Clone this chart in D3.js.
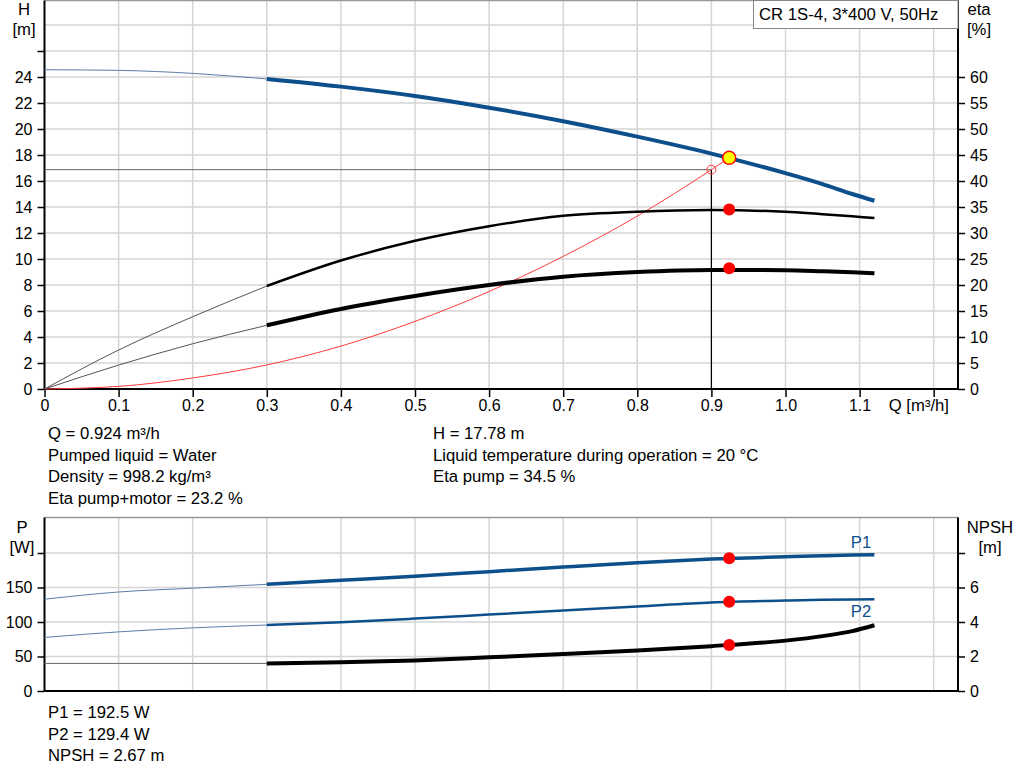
<!DOCTYPE html>
<html>
<meta charset="utf-8">
<title>CR 1S-4 pump curves</title>
<style>
body { margin: 0; background: #fff; }
svg { display: block; font-family: "Liberation Sans", Arial, sans-serif; font-size: 16.7px; }
.grid line { stroke: #d5d5d5; stroke-width: 1.5px; }
.axis path { display: none; }
.axis line { stroke: #000; stroke-width: 1.5px; }
.axis text { fill: #000; font-size: 16px; font-family: "Liberation Sans", Arial, sans-serif; }
.frame { stroke: #000; stroke-width: 2px; }
.curve { fill: none; }
</style>
<script src="https://d3js.org/d3.v7.min.js"></script>
<body>
<script>
// flow points: thin (extrapolated) part and the operating range
const qStart = [0, 0.1, 0.2, 0.3];
const qRun = [0.3, 0.4, 0.5, 0.6, 0.7, 0.8, 0.9, 1.0, 1.05, 1.09, 1.12];

// head [m]
const headStart = [24.56, 24.51, 24.28, 23.85];
const headRun = [23.85, 23.26, 22.54, 21.64, 20.6, 19.41, 18.11, 16.6, 15.76, 15.0, 14.48];

// efficiencies [%]
const etaPumpStart = [0, 7.5, 13.9, 19.8];
const etaPumpRun = [19.8, 24.7, 28.5, 31.3, 33.3, 34.1, 34.4, 34.1, 33.6, 33.2, 32.9];
const etaTotalStart = [0, 4.6, 8.7, 12.25];
const etaTotalRun = [12.25, 15.4, 17.9, 20.0, 21.6, 22.5, 22.9, 22.85, 22.65, 22.45, 22.25];

// system curve [m]
const qSystem = [0, 0.1, 0.2, 0.3, 0.4, 0.5, 0.6, 0.7, 0.8, 0.9, 0.924];
const headSystem = [0, 0.2, 0.85, 1.85, 3.3, 5.2, 7.5, 10.2, 13.3, 16.87, 17.78];

// power [W] and NPSH [m]
const p1Start = [133, 143.5, 149, 154.6];
const p1Run = [154.6, 160.4, 166.2, 173, 179.7, 186, 191.2, 194.5, 196, 197, 197.5];
const p2Start = [77.6, 85.7, 91.5, 95.6];
const p2Run = [95.6, 99.7, 105, 110.8, 116.6, 122.4, 128.3, 131.0, 132.1, 132.7, 133];
const npshStart = [1.6, 1.6, 1.6, 1.6];
const npshRun = [1.6, 1.66, 1.77, 1.95, 2.14, 2.35, 2.6, 2.92, 3.18, 3.47, 3.81];

// duty point
const duty = { q: 0.924, h: 17.78, etaPump: 34.5, etaTotal: 23.2, p1: 192.5, p2: 129.4, npsh: 2.67 };
const refPoint = { q: 0.9, h: 16.87 };

const qTicks = [0, 0.1, 0.2, 0.3, 0.4, 0.5, 0.6, 0.7, 0.8, 0.9, 1.0, 1.1, 1.2];
const hTicks = [0, 2, 4, 6, 8, 10, 12, 14, 16, 18, 20, 22, 24, 26];
const hGrid = [2, 4, 6, 8, 10, 12, 14, 16, 18, 20, 22, 24, 26, 28];
const etaTicks = [0, 5, 10, 15, 20, 25, 30, 35, 40, 45, 50, 55, 60];
const pTicks = [0, 50, 100, 150, 200];
const npshTicks = [0, 2, 4, 6, 8];

const infoTop = ["Q = 0.924 m³/h", "Pumped liquid = Water", "Density = 998.2 kg/m³", "Eta pump+motor = 23.2 %"];
const infoTopRight = ["H = 17.78 m", "Liquid temperature during operation = 20 °C", "Eta pump = 34.5 %"];
const infoBottom = ["P1 = 192.5 W", "P2 = 129.4 W", "NPSH = 2.67 m"];
const title = "CR 1S-4, 3*400 V, 50Hz";

const blue = "#0d4f8b";
const left = 44.5, right = 958;

const svg = d3.select("body").append("svg")
    .attr("width", 1024)
    .attr("height", 781);

const x = d3.scaleLinear().domain([0, 1.2]).range([left, 933.7]);

function zip(qs, vs) { return qs.map((q, i) => [q, vs[i]]); }

function drawPanel(y0, y1, yL, yR, opts) {
  const g = svg.append("g");
  const grid = g.append("g").attr("class", "grid");
  grid.selectAll("line.v").data(qTicks.slice(1)).join("line")
      .attr("x1", d => x(d)).attr("x2", d => x(d))
      .attr("y1", y0).attr("y2", y1);
  grid.selectAll("line.h").data(opts.grid).join("line")
      .attr("x1", left).attr("x2", right)
      .attr("y1", d => yL(d)).attr("y2", d => yL(d));

  // top border
  g.append("line").attr("x1", left).attr("x2", right).attr("y1", y0).attr("y2", y0)
      .attr("stroke", "#999").attr("stroke-width", 1.5);

  g.append("g").attr("class", "axis")
      .attr("transform", `translate(${left},0)`)
      .call(d3.axisLeft(yL).tickValues(opts.leftTicks).tickSize(7).tickPadding(5)
        .tickFormat(d => d <= opts.leftMax ? d : ""));
  g.append("g").attr("class", "axis")
      .attr("transform", `translate(${right},0)`)
      .call(d3.axisRight(yR).tickValues(opts.rightTicks).tickSize(7).tickPadding(5)
        .tickFormat(d => d <= opts.rightMax ? d : ""));
  if (opts.xAxis) {
    g.append("g").attr("class", "axis")
        .attr("transform", `translate(0,${y1})`)
        .call(d3.axisBottom(x).tickValues(qTicks).tickSize(8).tickPadding(3)
          .tickFormat(d => d === 0 ? "0" : (d > 1.15 ? "" : d3.format(".1f")(d))));
  }
  g.append("line").attr("class", "frame").attr("x1", left).attr("x2", left).attr("y1", y0).attr("y2", y1);
  g.append("line").attr("class", "frame").attr("x1", right).attr("x2", right).attr("y1", y0).attr("y2", y1);
  g.append("line").attr("class", "frame").attr("x1", left).attr("x2", right).attr("y1", y1).attr("y2", y1);
  return g;
}

function curve(g, pts, y, color, width) {
  const line = d3.line().x(d => x(d[0])).y(d => y(d[1])).curve(d3.curveMonotoneX);
  g.append("path").attr("class", "curve").datum(pts)
      .attr("d", line).attr("stroke", color).attr("stroke-width", width);
}

function label(text, px, py, anchor, color) {
  svg.append("text").attr("x", px).attr("y", py)
      .attr("text-anchor", anchor || "start")
      .attr("fill", color || "#000").text(text);
}

// ---------- upper panel: H and eta ----------
const yH = d3.scaleLinear().domain([0, 24]).range([389, 77]);
const yEta = d3.scaleLinear().domain([0, 60]).range([389, 77]);
const upper = drawPanel(0.5, 389, yH, yEta,
  { grid: hGrid, leftTicks: hTicks, leftMax: 24, rightTicks: etaTicks, rightMax: 60, xAxis: true });

// reference lines to the read-off point
upper.append("line").attr("x1", left).attr("x2", x(refPoint.q))
    .attr("y1", yH(refPoint.h)).attr("y2", yH(refPoint.h))
    .attr("stroke", "#666").attr("stroke-width", 1);
upper.append("line").attr("x1", x(refPoint.q)).attr("x2", x(refPoint.q))
    .attr("y1", yH(refPoint.h)).attr("y2", 389)
    .attr("stroke", "#000").attr("stroke-width", 1.2);

curve(upper, zip(qSystem, headSystem), yH, "#ff3b3b", 1);
curve(upper, zip(qStart, headStart), yH, "#5b7ea6", 1);
curve(upper, zip(qRun, headRun), yH, blue, 4);
curve(upper, zip(qStart, etaPumpStart), yEta, "#555", 1);
curve(upper, zip(qRun, etaPumpRun), yEta, "#000", 2.5);
curve(upper, zip(qStart, etaTotalStart), yEta, "#555", 1);
curve(upper, zip(qRun, etaTotalRun), yEta, "#000", 4);

upper.append("circle").attr("cx", x(refPoint.q)).attr("cy", yH(refPoint.h)).attr("r", 4.5)
    .attr("fill", "none").attr("stroke", "#ff3b3b").attr("stroke-width", 1);
upper.append("circle").attr("cx", x(duty.q)).attr("cy", yEta(duty.etaPump)).attr("r", 6).attr("fill", "#f00");
upper.append("circle").attr("cx", x(duty.q)).attr("cy", yEta(duty.etaTotal)).attr("r", 6).attr("fill", "#f00");
upper.append("circle").attr("cx", x(duty.q)).attr("cy", yH(duty.h)).attr("r", 6.5)
    .attr("fill", "#ffff00").attr("stroke", "#f00").attr("stroke-width", 1.5);

// title box
svg.append("rect").attr("x", 753.5).attr("y", 0.5).attr("width", right - 753.5).attr("height", 28)
    .attr("fill", "#fff").attr("stroke", "#888").attr("stroke-width", 1);
label(title, 759, 20);

label("H", 24, 15, "middle");
label("[m]", 24, 35, "middle");
label("eta", 979, 15, "middle");
label("[%]", 979, 35, "middle");
label("Q [m³/h]", 949, 411, "end");

infoTop.forEach((t, i) => label(t, 48, 439 + i * 21.7));
infoTopRight.forEach((t, i) => label(t, 433, 439 + i * 21.7));

// ---------- lower panel: P and NPSH ----------
const yP = d3.scaleLinear().domain([0, 200]).range([691, 553]);
const yN = d3.scaleLinear().domain([0, 8]).range([691, 553]);
const lower = drawPanel(517.5, 691, yP, yN,
  { grid: pTicks.slice(1), leftTicks: pTicks, leftMax: 150, rightTicks: npshTicks, rightMax: 6, xAxis: false });

curve(lower, zip(qStart, p1Start), yP, "#5b7ea6", 1);
curve(lower, zip(qRun, p1Run), yP, blue, 3.5);
curve(lower, zip(qStart, p2Start), yP, "#5b7ea6", 1);
curve(lower, zip(qRun, p2Run), yP, blue, 2.5);
curve(lower, zip(qStart, npshStart), yN, "#666", 1);
curve(lower, zip(qRun, npshRun), yN, "#000", 4);

lower.append("circle").attr("cx", x(duty.q)).attr("cy", yP(duty.p1)).attr("r", 6).attr("fill", "#f00");
lower.append("circle").attr("cx", x(duty.q)).attr("cy", yP(duty.p2)).attr("r", 6).attr("fill", "#f00");
lower.append("circle").attr("cx", x(duty.q)).attr("cy", yN(duty.npsh)).attr("r", 6).attr("fill", "#f00");

label("P1", 861, 548, "middle", blue);
label("P2", 861, 617, "middle", blue);

label("P", 22, 533, "middle");
label("[W]", 22, 553, "middle");
label("NPSH", 990, 533, "middle");
label("[m]", 990, 553, "middle");

infoBottom.forEach((t, i) => label(t, 48, 718 + i * 21.5));
</script>
</body>
</html>
